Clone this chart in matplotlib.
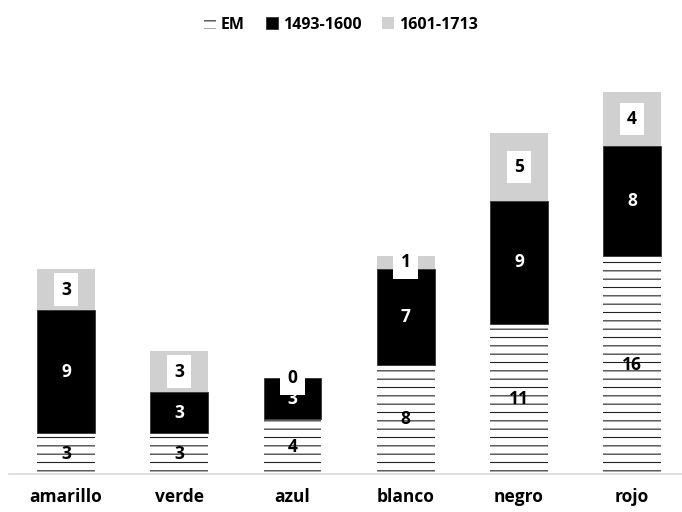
import matplotlib.pyplot as plt
import numpy as np

plt.rcParams["font.family"] = ["Open Sans", "DejaVu Sans"]
plt.rcParams["hatch.linewidth"] = 0.8

colores = ["amarillo", "verde", "azul", "blanco", "negro", "rojo"]
em = [3, 3, 4, 8, 11, 16]
s1493 = [9, 3, 3, 7, 9, 8]
s1601 = [3, 3, 0, 1, 5, 4]

fig = plt.figure(figsize=(6.82, 5.12), dpi=100)
ax = fig.add_axes([9 / 682, 0.0742, 673 / 682, 0.80])

x = np.arange(len(colores))
w = 0.51

b1 = ax.bar(x, em, w, color="white", edgecolor="#222222", linewidth=0,
            hatch="--", label="EM")
bot2 = np.array(em)
b2 = ax.bar(x, s1493, w, bottom=bot2, color="black", edgecolor="#333333",
            linewidth=0.6, label="1493-1600")
bot3 = bot2 + np.array(s1493)
b3 = ax.bar(x, s1601, w, bottom=bot3, color="#d0d0d0", linewidth=0,
            label="1601-1713")

# value labels
for i in range(len(colores)):
    ax.text(x[i], em[i] / 2, str(em[i]), ha="center", va="center",
            fontsize=12.5, fontweight="bold", color="black")
    ax.text(x[i], bot2[i] + s1493[i] / 2, str(s1493[i]), ha="center",
            va="center", fontsize=12.5, fontweight="bold", color="white")
    ax.text(x[i], bot3[i] + s1601[i] / 2, str(s1601[i]), ha="center",
            va="center", fontsize=12.5, fontweight="bold", color="black",
            bbox=dict(boxstyle="square,pad=0.42", fc="white", ec="none"))

ax.set_xlim(-0.5035, 5.44)
ax.set_ylim(0, 30)
ax.set_xticks(x)
ax.set_xticklabels(colores, fontsize=12.5, fontweight="bold")
ax.tick_params(axis="x", length=0, pad=10)
ax.set_yticks([])
for s in ["top", "left", "right"]:
    ax.spines[s].set_visible(False)
ax.spines["bottom"].set_color("#d9d9d9")
ax.spines["bottom"].set_linewidth(1.2)

fig.legend(handles=[b1, b2, b3], loc="upper center",
           bbox_to_anchor=(0.5, 0.995), ncol=3, frameon=False,
           prop=dict(size=11.5, weight="bold"), handlelength=0.75,
           handleheight=0.8, handletextpad=0.3, columnspacing=1.3)

fig.savefig("out.png", dpi=100)
